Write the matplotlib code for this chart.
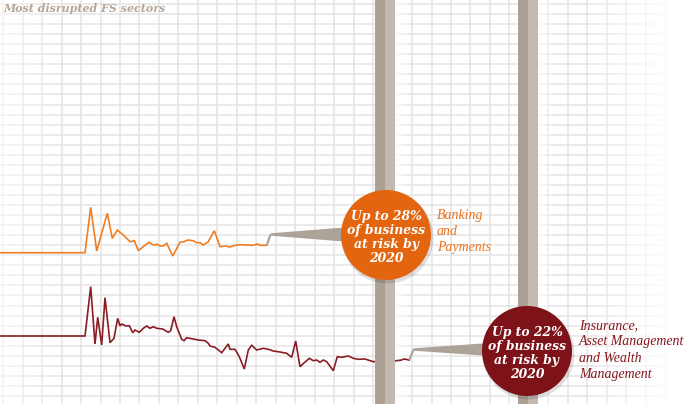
import numpy as np
import matplotlib
matplotlib.use("Agg")
import matplotlib.pyplot as plt
from matplotlib.patches import Circle, Polygon, Rectangle

# ---------------- data (x = time position, y = level) ----------------
banking_x = [0, 85, 90.7, 96.7, 107.3, 112.3, 117.3, 123.3, 130, 134.3, 138.3, 143.3, 149,
             153.3, 157.3, 160, 163.3, 166.7, 172.7, 180, 184, 187.7, 193.3, 196.7, 200,
             203.3, 208.3, 214.3, 220, 225, 230, 235, 240, 246.7, 253.3, 257.3, 260, 266.7]
banking_y = [252.7, 252.7, 207.3, 251, 213.3, 238.3, 230, 235, 241.7, 240.7, 250.7, 246.7, 242.3,
             245, 244.3, 246, 246, 243.3, 256, 242.3, 241.7, 240, 240.7, 242.7, 242.7,
             245, 241.7, 230.7, 246.7, 246, 247, 245.3, 244.7, 245, 245.3, 244, 245.3, 245.3]

insurance_x = [0, 85, 90.7, 95, 97.7, 101.7, 105, 110, 114, 117.7, 120, 121.7, 126, 129.3,
               132.7, 135, 139.3, 143.3, 146.7, 150, 153.3, 156.7, 162.7, 168.3, 170.7, 174,
               176.7, 181.7, 184, 186.7, 191.7, 198.3, 205, 208.3, 210, 215, 221.7, 228.3,
               230, 235, 239.3, 244.3, 248.3, 251.7, 256.7, 263.3, 268.3, 273.3, 280, 286.7,
               291.7, 295.7, 300, 304.3, 309.3, 313.3, 316.7, 320, 323.3, 326.7, 333.3, 337.3,
               341.7, 348.3, 353.3, 358.3, 365, 373.3, 385, 396.7, 401.7, 404, 409.3]
insurance_y = [336, 336, 286.7, 344, 317.3, 345, 297.7, 342.7, 338.3, 318.3, 326, 324, 326, 325.7,
               332.7, 330, 332.3, 328.3, 326, 328.3, 326.7, 328.3, 329, 332.3, 330.7, 316.7,
               326.7, 339.3, 340.7, 337.7, 338.7, 340, 340.7, 343.3, 346, 347.3, 352.7, 344,
               349.3, 349.3, 356.7, 369, 350, 345.3, 350, 348.3, 349.3, 351, 352, 353.3,
               357.3, 341, 366.7, 362.7, 358.3, 360.7, 360, 362.3, 360, 361.7, 370.7, 356.7,
               357.3, 356, 358.3, 359.3, 359, 361.7, 361, 360.7, 360, 359, 360]

sectors = ["Banking\nand\nPayments", "Insurance,\nAsset Management\nand Wealth\nManagement"]
risk_labels = ["Up to 28%\nof business\nat risk by\n2020", "Up to 22%\nof business\nat risk by\n2020"]
title = "Most disrupted FS sectors"

# ---------------- styling ----------------
W, H = 689, 404
ORANGE_LINE = "#f07d22"
ORANGE = "#e3650f"
ORANGE_TXT = "#e8731b"
RED_LINE = "#8a1c24"
RED = "#7e1219"
RED_TXT = "#87161f"
TAUPE_D = "#ada196"
TAUPE_L = "#c3b9af"
CONN = "#aca399"
GRID = "#e4e4e4"
TITLE_C = "#b4a699"

fig = plt.figure(figsize=(W / 100, H / 100), dpi=100)
ax = fig.add_axes([0, 0, 1, 1])
ax.set_xlim(0, W)
ax.set_ylim(H, 0)
ax.axis("off")

# grid
for gx in np.arange(3.2, W, 19.47):
    ax.axvline(gx, color=GRID, lw=1.1, zorder=1)
for gy in np.arange(4, H + 1, 10.05):
    ax.axhline(gy, color=GRID, lw=1.1, zorder=1)

# fade of grid at left / right edges (white overlay)
xs = np.linspace(0, W, W)
alpha = np.zeros_like(xs)
alpha = np.where(xs < 60, 0.55 * (1 - xs / 60), alpha)
alpha = np.where(xs > 585, np.clip((xs - 585) / 88, 0, 1), alpha)
overlay = np.ones((2, W, 4))
overlay[:, :, 3] = alpha[None, :]
ax.imshow(overlay, extent=[0, W, H, 0], aspect="auto", zorder=2, interpolation="bilinear")

# pillars (x positions) and glow to their right
pillar_x = [375, 518]
pw = 20
for px in pillar_x:
    glow = np.ones((2, 40, 4))
    glow[:, :, 3] = np.linspace(0.85, 0, 40)[None, :]
    ax.imshow(glow, extent=[px + pw, px + pw + 16, H, 0], aspect="auto", zorder=2,
              interpolation="bilinear")

# lines
ax.plot(banking_x, banking_y, color=ORANGE_LINE, lw=1.2, zorder=3, solid_joinstyle="miter")
ax.plot(insurance_x, insurance_y, color=RED_LINE, lw=1.2, zorder=3, solid_joinstyle="miter")

for px in pillar_x:
    ax.add_patch(Rectangle((px, 0), pw / 2, H, color=TAUPE_D, lw=0, zorder=4))
    ax.add_patch(Rectangle((px + pw / 2, 0), pw / 2, H, color=TAUPE_L, lw=0, zorder=4))

# connectors from series end to circles
def connector(x0, y0, x1, y1, x2, half0, half2):
    ax.plot([x0, x1], [y0, y1], color=CONN, lw=1.6, zorder=5, solid_capstyle="butt")
    ax.add_patch(Polygon([(x1, y1 - half0), (x2, y1 - half2), (x2, y1 + half2), (x1, y1 + half0)],
                         closed=True, color=CONN, lw=0, zorder=5))

connector(banking_x[-1], banking_y[-1], 270.5, 234.5, 350, 1.2, 7.5)
connector(insurance_x[-1], insurance_y[-1], 413.5, 349.5, 490, 1.2, 6.5)

# circles
circles = [((386, 235), ORANGE), ((527, 351), RED)]
for (cx, cy), col in circles:
    ax.add_patch(Circle((cx + 1.5, cy + 2.5), 46, color="#000000", alpha=0.12, lw=0, zorder=6))
    ax.add_patch(Circle((cx, cy), 45, color=col, lw=0, zorder=7))

for ((cx, cy), col), txt in zip(circles, risk_labels):
    ax.text(cx, cy + 2.5, txt, color="white", ha="center", va="center", family="DejaVu Serif",
            style="italic", weight="bold", fontsize=8.9, linespacing=1.12, zorder=8)

# sector labels
ax.text(437, 231.5, sectors[0], color=ORANGE_TXT, ha="left", va="center",
        family="Liberation Serif", style="italic", fontsize=10, linespacing=1.32, zorder=8)
ax.text(579, 350, sectors[1], color=RED_TXT, ha="left", va="center",
        family="Liberation Serif", style="italic", fontsize=10, linespacing=1.32, zorder=8)

# title
ax.text(3, 8, title, color=TITLE_C, ha="left", va="center", family="DejaVu Serif",
        style="italic", weight="bold", fontsize=7.9, zorder=8)

fig.savefig("out.png", dpi=100)
